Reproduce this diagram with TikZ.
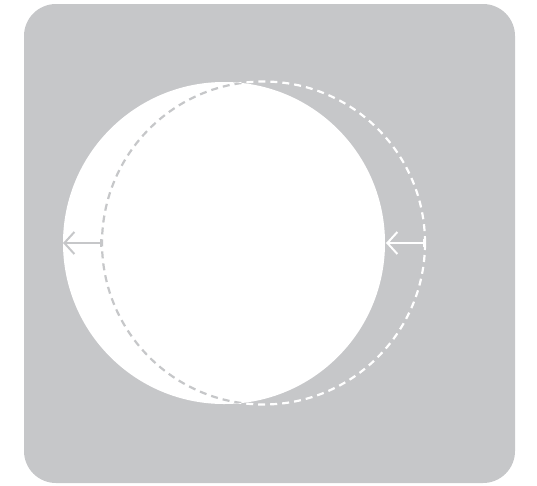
\documentclass[tikz,border=0pt]{standalone}
\usetikzlibrary{arrows.meta}
\definecolor{bggray}{HTML}{C6C7C9}
\definecolor{dashgray}{HTML}{C6C7C9}
\begin{document}
\begin{tikzpicture}[x=1pt,y=-1pt,
  dashcirc/.style={line width=2.2pt, dash pattern=on 7pt off 5pt},
  movearrow/.style={line width=2pt, {Bar[width=8pt,line width=2pt]}-{Straight Barb[length=10pt,width=22pt,line width=2pt]}}]
\useasboundingbox (0,0) rectangle (537,485);
\fill[bggray, rounded corners=32pt] (24,4) rectangle (515,483);
\fill[white] (224,243) circle (161);
% dashed circle: white where over gray, gray where over white
\begin{scope}
  \clip (224,243) circle (161);
  \draw[dashgray, dashcirc] (263.5,243) circle (161.5);
\end{scope}
\begin{scope}[even odd rule]
  \clip (0,0) rectangle (537,485) (224,243) circle (161);
  \draw[white, dashcirc] (263.5,243) circle (161.5);
\end{scope}
\coordinate (dl) at (102,243);
\coordinate (wl) at (63,243);
\coordinate (dr) at (425,243);
\coordinate (wr) at (386,243);
\draw[dashgray, movearrow] (dl) -- (wl);
\draw[white, movearrow] (dr) -- (wr);
\end{tikzpicture}
\end{document}
